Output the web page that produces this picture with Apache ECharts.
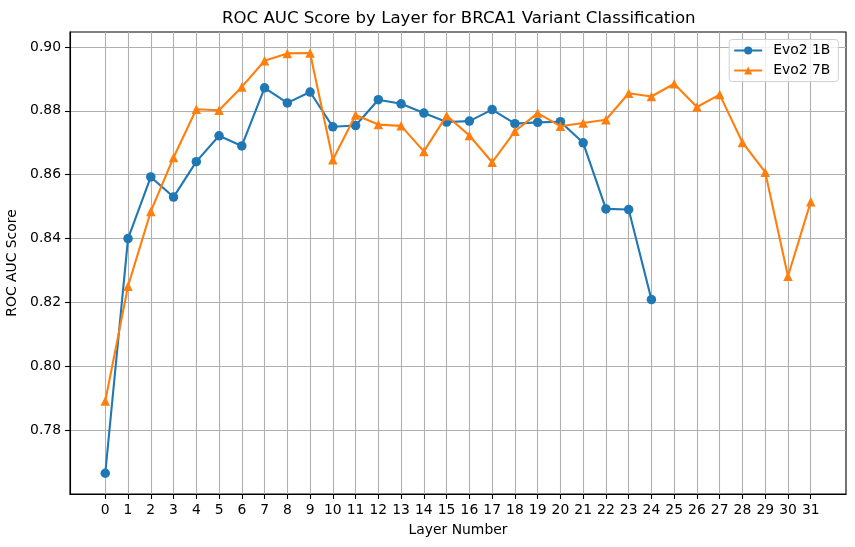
<!DOCTYPE html>
<html>
<head>
<meta charset="utf-8">
<script src="https://cdn.jsdelivr.net/npm/echarts@6/dist/echarts.min.js"></script>
<style>
  html, body { margin: 0; padding: 0; background: #fff; }
  #chart { width: 855px; height: 547px; }
</style>
</head>
<body>
<div id="chart"></div>
<script>
// ---- data ----
const layers = [0,1,2,3,4,5,6,7,8,9,10,11,12,13,14,15,16,17,18,19,20,21,22,23,24,25,26,27,28,29,30,31];
const evo2_1B = [0.7665,0.8400,0.8593,0.8530,0.8641,0.8722,0.8690,0.8872,0.8825,0.8859,
                 0.8750,0.8754,0.8835,0.8822,0.8793,0.8765,0.8768,0.8804,0.8760,0.8764,
                 0.8766,0.8700,0.8493,0.8491,0.8209];
const evo2_7B = [0.7891,0.8251,0.8485,0.8654,0.8805,0.8802,0.8875,0.8957,0.8980,0.8981,
                 0.8647,0.8787,0.8757,0.8753,0.8673,0.8785,0.8723,0.8639,0.8736,0.8793,
                 0.8752,0.8762,0.8772,0.8855,0.8845,0.8885,0.8812,0.8851,0.8701,0.8608,
                 0.8282,0.8515];
const yTicks = [0.78,0.80,0.82,0.84,0.86,0.88,0.90];
const seriesNames = ['Evo2 1B','Evo2 7B'];

const FONT = 'DejaVu Sans';
const chart = echarts.init(document.getElementById('chart'), null, {renderer: 'canvas'});

const pairs = (vals) => vals.map((v, i) => [layers[i], v]);

const option = {
  backgroundColor: '#ffffff',
  animation: false,
  textStyle: { fontFamily: FONT },
  title: {
    text: 'ROC AUC Score by Layer for BRCA1 Variant Classification',
    left: 222, top: 10, padding: 0,
    textStyle: { fontFamily: FONT, fontSize: 16.6, fontWeight: 'normal', color: '#000' }
  },
  legend: {
    orient: 'vertical',
    right: 16.7, top: 39.5,
    padding: [4, 8, 4, 4],
    itemWidth: 28, itemHeight: 10, itemGap: 6,
    borderColor: '#d0d0d0', borderWidth: 1, borderRadius: 3,
    backgroundColor: 'rgba(255,255,255,0.8)',
    textStyle: { fontFamily: FONT, fontSize: 13.9, color: '#000', padding: [0,0,0,6] },
    data: seriesNames
  },
  grid: {
    left: 70, right: 9, top: 32, bottom: 53,
    show: true, borderColor: '#000', borderWidth: 1.1,
    outerBoundsMode: 'none'
  },
  xAxis: {
    type: 'value',
    min: -1.55, max: 32.55,
    name: 'Layer Number', nameLocation: 'middle', nameGap: 29,
    nameTextStyle: { fontFamily: FONT, fontSize: 13.9, color: '#000' },
    axisLine: { show: true, onZero: false, lineStyle: { color: '#000', width: 1.1 } },
    axisTick: { show: true, inside: false, length: 5, customValues: layers, lineStyle: { color: '#000', width: 1.1 } },
    axisLabel: { customValues: layers, margin: 9, fontFamily: FONT, fontSize: 13.9, color: '#000' },
    splitLine: { show: true, lineStyle: { color: '#b0b0b0', width: 1.1 } }
  },
  yAxis: {
    type: 'value',
    min: 0.76, max: 0.9047,
    name: 'ROC AUC Score', nameLocation: 'middle', nameGap: 44,
    nameTextStyle: { fontFamily: FONT, fontSize: 13.9, color: '#000' },
    axisLine: { show: true, onZero: false, lineStyle: { color: '#000', width: 1.1 } },
    axisTick: { show: true, inside: false, length: 5, customValues: yTicks, lineStyle: { color: '#000', width: 1.1 } },
    axisLabel: { customValues: yTicks, margin: 9, fontFamily: FONT, fontSize: 13.9, color: '#000',
                 formatter: (v) => Number(v).toFixed(2) },
    splitLine: { show: true, lineStyle: { color: '#b0b0b0', width: 1.1 } }
  },
  series: [
    {
      name: seriesNames[0], type: 'line', data: pairs(evo2_1B),
      symbol: 'circle', symbolSize: 9.5,
      lineStyle: { color: '#1f77b4', width: 2.1 },
      itemStyle: { color: '#1f77b4' },
      z: 3
    },
    {
      name: seriesNames[1], type: 'line', data: pairs(evo2_7B),
      symbol: 'triangle', symbolSize: 9.5,
      lineStyle: { color: '#ff7f0e', width: 2.1 },
      itemStyle: { color: '#ff7f0e' },
      z: 4
    }
  ]
};
chart.setOption(option);
</script>
</body>
</html>
